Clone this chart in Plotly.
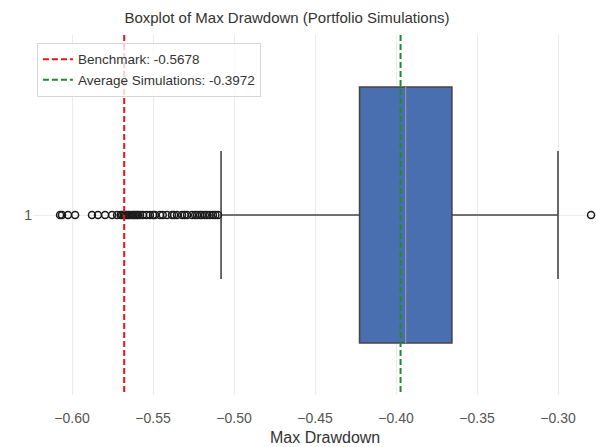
import plotly.graph_objects as go

# Summary statistics of the simulated max drawdowns
q1 = -0.4225
median = -0.394
q3 = -0.3655
lower_whisker = -0.508
upper_whisker = -0.300

# Simulations falling outside the whiskers
outliers = [
    -0.6074, -0.6062, -0.6025, -0.5981, -0.5877, -0.5840, -0.5796, -0.5753,
    -0.5722, -0.5700, -0.5691, -0.5680, -0.5673, -0.5665, -0.5654, -0.5645,
    -0.5630, -0.5620, -0.5611, -0.5600, -0.5593, -0.5580, -0.5562, -0.5540,
    -0.5519, -0.5500, -0.5488, -0.5457, -0.5440, -0.5414, -0.5383, -0.5370,
    -0.5352, -0.5321, -0.5305, -0.5290, -0.5259, -0.5240, -0.5228, -0.5210,
    -0.5198, -0.5180, -0.5167, -0.5150, -0.5130, -0.5115, -0.5099,
    -0.2796,
]

benchmark = -0.5678
average_sim = -0.3972

tick_vals = [-0.60, -0.55, -0.50, -0.45, -0.40, -0.35, -0.30]
box_label = "1"

box_width = 0.711
font_family = "Liberation Sans, Arial, sans-serif"

fig = go.Figure()

fig.add_trace(go.Box(
    y=[0], q1=[q1], median=[median], q3=[q3],
    lowerfence=[lower_whisker], upperfence=[upper_whisker],
    orientation="h", boxpoints=False, width=box_width, whiskerwidth=0.5,
    fillcolor="#4a6fb0", line=dict(color="#464646", width=1.6),
    showlegend=False, hoverinfo="skip",
))

# lighter median stroke over the filled box
fig.add_trace(go.Scatter(
    x=[median, median], y=[-box_width / 2, box_width / 2], mode="lines",
    line=dict(color="#8797b8", width=1.5), showlegend=False, hoverinfo="skip",
))

fig.add_trace(go.Scatter(
    x=outliers, y=[0] * len(outliers), mode="markers",
    marker=dict(symbol="circle-open", size=7, color="#1a1a1a",
                line=dict(width=1.5, color="#1a1a1a")),
    showlegend=False, hoverinfo="skip",
))

fig.add_trace(go.Scatter(
    x=[benchmark, benchmark], y=[-0.5, 0.5], mode="lines",
    line=dict(color="#e8141c", width=2, dash="6px,3px"),
    name=f"Benchmark: {benchmark:.4f}",
))
fig.add_trace(go.Scatter(
    x=[average_sim, average_sim], y=[-0.5, 0.5], mode="lines",
    line=dict(color="#1f8a2e", width=2, dash="6px,3px"),
    name=f"Average Simulations: {average_sim:.4f}",
))

fig.update_layout(
    width=596, height=447,
    margin=dict(l=33, r=0, t=35, b=52),
    paper_bgcolor="white", plot_bgcolor="white",
    font=dict(family=font_family, color="#444444", size=13),
    title=dict(text="Boxplot of Max Drawdown (Portfolio Simulations)",
               x=287 / 596, xref="container", xanchor="center",
               y=1 - 18 / 447, yref="container", yanchor="middle",
               font=dict(size=15, color="#333333")),
    legend=dict(x=0.007, y=0.978, xanchor="left", yanchor="top",
                bgcolor="rgba(255,255,255,0.8)", bordercolor="#d6d6d6",
                borderwidth=1, font=dict(size=13.5, color="#333333"),
                tracegroupgap=0),
    xaxis=dict(range=[-0.6241, -0.27654], tickvals=tick_vals,
               tickformat=".2f", showgrid=True, gridcolor="#ececec",
               gridwidth=1, zeroline=False, showline=False,
               ticks="outside", ticklen=10, tickcolor="rgba(0,0,0,0)",
               tickfont=dict(size=14, color="#555555")),
    yaxis=dict(range=[0.5, -0.5], tickvals=[0], ticktext=[box_label],
               showgrid=True, gridcolor="#ececec", zeroline=False,
               showline=False, tickfont=dict(size=14, color="#555555")),
    annotations=[dict(text="Max Drawdown", xref="paper", yref="paper",
                      x=(325 - 33) / 563, y=-(437 - 395) / 360,
                      xanchor="center", yanchor="middle", showarrow=False,
                      font=dict(size=16, color="#333333"))],
)

fig.write_html("out.html")
